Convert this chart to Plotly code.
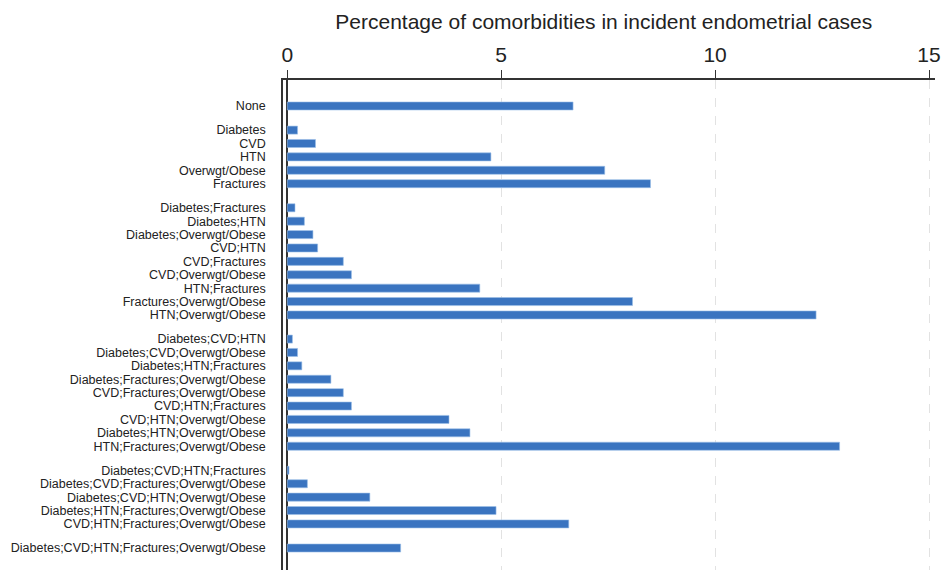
import plotly.graph_objects as go

# --- data ---
group_none = ["None"]
group_single = ["Diabetes", "CVD", "HTN", "Overwgt/Obese", "Fractures"]
group_pair = ["Diabetes;Fractures", "Diabetes;HTN", "Diabetes;Overwgt/Obese", "CVD;HTN",
              "CVD;Fractures", "CVD;Overwgt/Obese", "HTN;Fractures",
              "Fractures;Overwgt/Obese", "HTN;Overwgt/Obese"]
group_triple = ["Diabetes;CVD;HTN", "Diabetes;CVD;Overwgt/Obese", "Diabetes;HTN;Fractures",
                "Diabetes;Fractures;Overwgt/Obese", "CVD;Fractures;Overwgt/Obese",
                "CVD;HTN;Fractures", "CVD;HTN;Overwgt/Obese", "Diabetes;HTN;Overwgt/Obese",
                "HTN;Fractures;Overwgt/Obese"]
group_quad = ["Diabetes;CVD;HTN;Fractures", "Diabetes;CVD;Fractures;Overwgt/Obese",
              "Diabetes;CVD;HTN;Overwgt/Obese", "Diabetes;HTN;Fractures;Overwgt/Obese",
              "CVD;HTN;Fractures;Overwgt/Obese"]
group_five = ["Diabetes;CVD;HTN;Fractures;Overwgt/Obese"]

val_none = [6.68]
val_single = [0.24, 0.66, 4.76, 7.42, 8.49]
val_pair = [0.18, 0.40, 0.60, 0.71, 1.31, 1.50, 4.50, 8.07, 12.36]
val_triple = [0.12, 0.24, 0.34, 1.02, 1.31, 1.50, 3.78, 4.27, 12.91]
val_quad = [0.04, 0.47, 1.93, 4.88, 6.58]
val_five = [2.65]

x_ticks = [0, 5, 10, 15]
title_text = "Percentage of comorbidities in incident endometrial cases"

# --- layout of categories (group gaps) ---
groups = [(group_none, val_none), (group_single, val_single), (group_pair, val_pair),
          (group_triple, val_triple), (group_quad, val_quad), (group_five, val_five)]
GAP = 0.8
labels, values, pos = [], [], []
k = 0
for g, (cats, vals) in enumerate(groups):
    for c, v in zip(cats, vals):
        labels.append(c)
        values.append(v)
        pos.append(k + GAP * g)
        k += 1

fig = go.Figure(go.Bar(
    x=values, y=pos, orientation="h", width=0.6,
    marker=dict(color="#3a74c0", line=dict(color="#9cc0e8", width=0.6)),
    hoverinfo="x+text", text=labels, textposition="none",
))

fig.update_layout(
    width=941, height=570,
    margin=dict(l=283, r=0, t=80, b=0),
    paper_bgcolor="white", plot_bgcolor="white",
    font=dict(family="Liberation Sans, Arial, sans-serif", color="#222"),
    showlegend=False,
    title=dict(text=title_text, x=0.492, xanchor="center", xref="paper",
               y=1 - 22 / 570, yanchor="middle", yref="container",
               font=dict(size=21, color="#222")),
    xaxis=dict(
        side="top", range=[-0.1, 15.14], tickvals=x_ticks,
        ticks="outside", ticklen=8, tickcolor="#333", tickwidth=1.2,
        tickfont=dict(size=21, color="#222"), ticklabeloverflow="allow",
        showline=True, linecolor="#333", linewidth=1.5,
        showgrid=True, gridcolor="#e2e2e2", griddash="dash", gridwidth=1,
        zeroline=True, zerolinecolor="#333", zerolinewidth=1.5,
    ),
    yaxis=dict(
        range=[34.64, -1.94], tickvals=pos, ticktext=labels,
        ticks="", tickfont=dict(size=12.5, color="#222"),
        showline=True, linecolor="#333", linewidth=1.5,
        showgrid=False, zeroline=False, ticklabelstandoff=13,
    ),
)

fig.write_html(
    "out.html",
    config={"displayModeBar": False},
    post_script="document.body.style.margin='0';document.body.style.overflow='hidden';",
)
